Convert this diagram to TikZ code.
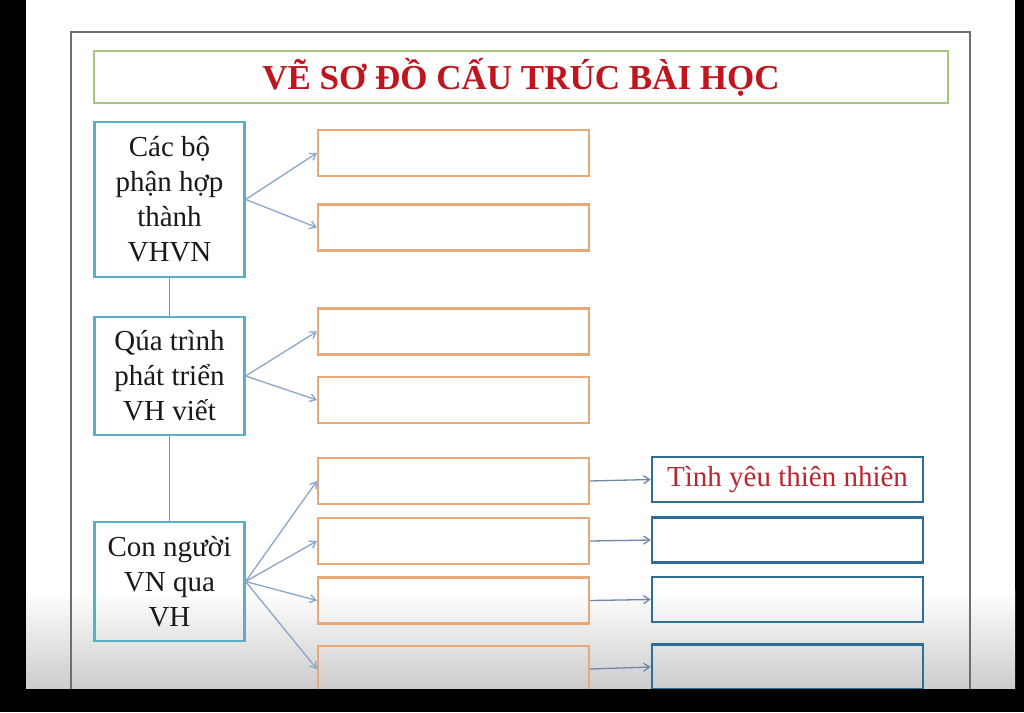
\documentclass[tikz,border=0pt]{standalone}
\usepackage{fontspec}
\setmainfont{Liberation Serif}
\usepackage{xcolor}
\usetikzlibrary{arrows.meta}
\definecolor{framegray}{HTML}{6E6E6E}
\definecolor{titlegreen}{HTML}{A8C57E}
\definecolor{titlered}{HTML}{C0141E}
\definecolor{tealline}{HTML}{5AAEC6}
\definecolor{orangeline}{HTML}{E9A877}
\definecolor{blueline}{HTML}{2F6E96}
\definecolor{linkblue}{HTML}{8AA6C8}
\definecolor{linkgray}{HTML}{6F88A6}
\definecolor{ideared}{HTML}{B8262F}

\begin{document}
\begin{tikzpicture}[x=1pt, y=-1pt, line width=2pt,
    topic/.style={draw=tealline, line width=2.2pt, inner sep=0pt, minimum width=150pt,
      align=center, text=black!90, font=\fontsize{29}{35}\selectfont},
    blank/.style={draw=orangeline, line width=2.2pt, inner sep=0pt,
      minimum width=271pt, minimum height=46pt},
    idea/.style={draw=blueline, line width=2.6pt, inner sep=0pt, minimum width=271pt,
      minimum height=45pt, text=ideared, font=\fontsize{29}{35}\selectfont},
    link/.style={draw=linkblue, line width=1.3pt, -{Straight Barb[length=6pt,width=8pt]}},
    sublink/.style={draw=linkgray, line width=1.3pt, -{Straight Barb[length=6pt,width=8pt]}}]
    \useasboundingbox (0,0) rectangle (1024,712);
    \fill[black] (0,0) rectangle (1024,712);
    \fill[white] (26,0) rectangle (1015,689);
    \shade[top color=white, bottom color=black!20] (26,590) rectangle (1015,689);

    \draw[framegray] (71,700) -- (71,32) -- (970,32) -- (970,700);
    \node[draw=titlegreen, inner sep=0pt, minimum width=854pt, minimum height=52pt,
      text=titlered, font=\bfseries\fontsize{35}{40}\selectfont] (title) at (521,77)
      {VẼ SƠ ĐỒ CẤU TRÚC BÀI HỌC};

    \node[topic, minimum height=155pt] (parts) at (169.5,199.5) {Các bộ\\phận hợp\\thành\\VHVN};
    \node[topic, minimum height=118pt] (growth) at (169.5,376) {Qúa trình\\phát triển\\VH viết};
    \node[topic, minimum height=119pt] (people) at (169.5,581.5) {Con người\\VN qua\\VH};

    \node[blank] (p1) at (453.5,153) {};
    \node[blank] (p2) at (453.5,227.5) {};
    \node[blank] (g1) at (453.5,331.5) {};
    \node[blank] (g2) at (453.5,400) {};
    \node[blank] (n1) at (453.5,481) {};
    \node[blank] (n2) at (453.5,541) {};
    \node[blank] (n3) at (453.5,600.5) {};
    \node[blank] (n4) at (453.5,669) {};

    \node[idea] (v1) at (787.5,479.5) {Tình yêu thiên nhiên};
    \node[idea] (v2) at (787.5,540) {};
    \node[idea] (v3) at (787.5,599.5) {};
    \node[idea] (v4) at (787.5,667) {};

    \draw[draw=tealline!60!gray, line width=1.2pt] (parts) -- (growth)
                                                   (growth) -- (people);

    \path (parts.east) edge[link] (p1.west)
          (parts.east) edge[link] (p2.west);
    \path (growth.east) edge[link] (g1.west)
          (growth.east) edge[link] (g2.west);
    \path (people.east) edge[link] (n1.west)
          (people.east) edge[link] (n2.west)
          (people.east) edge[link] (n3.west)
          (people.east) edge[link] (n4.west);
    \path (n1.east) edge[sublink] (v1.west)
          (n2.east) edge[sublink] (v2.west)
          (n3.east) edge[sublink] (v3.west)
          (n4.east) edge[sublink] (v4.west);

    \fill[black] (0,689) rectangle (1024,712);
  \end{tikzpicture}
\end{document}
